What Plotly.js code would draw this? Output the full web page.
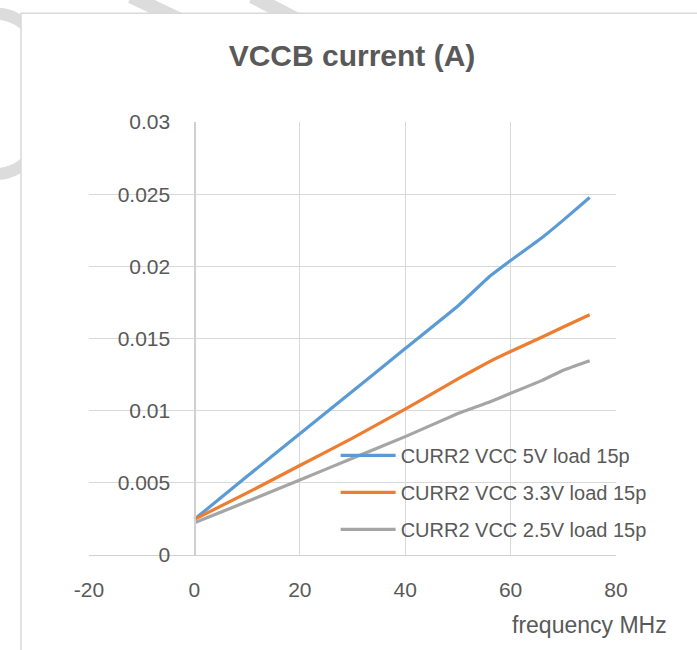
<!DOCTYPE html>
<html>
<head>
<meta charset="utf-8">
<script src="https://cdn.plot.ly/plotly-3.0.1.min.js"></script>
<style>html,body{margin:0;padding:0;background:#fff;}#chart{width:697px;height:650px;}</style>
</head>
<body>
<div id="chart"></div>
<script>
const frequencyMHz = [0, 10, 20, 30, 40, 50, 56, 60, 66, 70, 75];
const curr5V   = [0.00247, 0.00545, 0.00840, 0.01135, 0.01430, 0.01725, 0.01930, 0.02040, 0.02200, 0.02320, 0.02477];
const curr3V3  = [0.00247, 0.00430, 0.00620, 0.00810, 0.01010, 0.01220, 0.01340, 0.01410, 0.01510, 0.01580, 0.01665];
const curr2V5  = [0.00223, 0.00370, 0.00520, 0.00670, 0.00820, 0.00980, 0.01060, 0.01120, 0.01210, 0.01280, 0.01346];
const seriesNames = ['CURR2 VCC 5V load 15p', 'CURR2 VCC 3.3V load 15p', 'CURR2 VCC 2.5V load 15p'];
const xTicks = [-20, 0, 20, 40, 60, 80];
const yTicks = [0, 0.005, 0.01, 0.015, 0.02, 0.025, 0.03];
const yTickText = ['0', '0.005', '0.01', '0.015', '0.02', '0.025', '0.03'];

const colors = ['#5B9BD5', '#ED7D31', '#A5A5A5'];
const seriesY = [curr5V, curr3V3, curr2V5];
const FONT = 'Liberation Sans, Arial, sans-serif';

const traces = seriesY.map((ys, i) => ({
  x: frequencyMHz, y: ys, type: 'scatter', mode: 'lines',
  name: seriesNames[i], legendgroup: 'g' + i,
  line: {color: colors[i], width: 3.2, shape: 'spline', smoothing: 0.3}
}));

const layout = {
  width: 697, height: 650,
  margin: {l: 89, r: 81, t: 122, b: 95},
  paper_bgcolor: '#ffffff', plot_bgcolor: 'rgba(0,0,0,0)',
  font: {family: FONT, size: 21, color: '#595959'},
  title: {text: '<b>VCCB current (A)</b>', font: {family: FONT, size: 30, color: '#595959'},
          x: 0.505, xref: 'container', xanchor: 'center', y: 0.915, yref: 'container', yanchor: 'middle'},
  xaxis: {range: [-20, 80], tickvals: xTicks, ticktext: xTicks.map(String), showgrid: true, gridcolor: '#d9d9d9', gridwidth: 1.3,
          zeroline: false, showline: true, linecolor: '#d0d0d0', linewidth: 1.3, ticks: '', ticklabelstandoff: 15,
          tickfont: {family: FONT, size: 21, color: '#595959'}, fixedrange: true},
  yaxis: {range: [0, 0.03], tickvals: yTicks, ticktext: yTickText, showgrid: true, gridcolor: '#d9d9d9', gridwidth: 1.3,
          zeroline: false, showline: true, linecolor: '#d0d0d0', linewidth: 1.3, ticks: '', ticklabelstandoff: 20,
          anchor: 'free', position: 0.2, tickfont: {family: FONT, size: 21, color: '#595959'}, fixedrange: true},
  showlegend: true,
  legend: {x: 0.468, xanchor: 'left', y: 0.275, yanchor: 'top', bgcolor: 'rgba(0,0,0,0)', borderwidth: 0,
           traceorder: 'grouped', tracegroupgap: 8, itemwidth: 55,
           font: {family: FONT, size: 20, color: '#595959'}},
  annotations: [{text: 'frequency MHz', xref: 'paper', yref: 'paper', x: 1.1, y: -0.161, xanchor: 'right', yanchor: 'middle',
                 showarrow: false, font: {family: FONT, size: 23, color: '#595959'}}],
  shapes: [
    {type: 'circle', xref: 'paper', yref: 'paper', x0: -0.28, x1: -0.07, y0: 1.25, y1: 0.88, line: {color: '#dcdcdc', width: 12}, layer: 'below'},
    {type: 'line', xref: 'paper', yref: 'paper', x0: 0.08, x1: 0.2, y0: 1.29, y1: 1.22, line: {color: '#dcdcdc', width: 14}, layer: 'below'},
    {type: 'line', xref: 'paper', yref: 'paper', x0: 0.31, x1: 0.42, y0: 1.29, y1: 1.22, line: {color: '#dcdcdc', width: 14}, layer: 'below'},
    {type: 'rect', xref: 'paper', yref: 'paper', x0: -0.129, x1: 1.163, y0: -0.23, y1: 1.251, fillcolor: '#ffffff', line: {color: '#d9d9d9', width: 1.5}, layer: 'below'}
  ]
};

Plotly.newPlot('chart', traces, layout, {displayModeBar: false, staticPlot: true});
</script>
</body>
</html>
